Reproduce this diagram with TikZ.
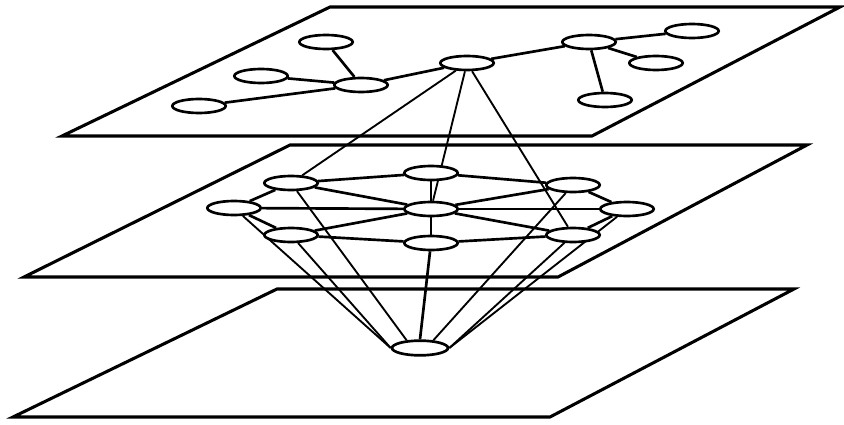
\documentclass[tikz,border=0pt]{standalone}
\usetikzlibrary{shapes.geometric}
\pgfdeclarelayer{bg}
\pgfsetlayers{bg,main}

\begin{document}
\begin{tikzpicture}[x=0.75pt,y=-0.75pt]

\tikzset{line/.style={draw,line width=2pt}}
\tikzset{link/.style={draw,line width=1.4pt}}
\tikzset{plane/.style={draw,line width=2.3pt,line join=miter}}
\tikzset{node/.style={ellipse,line,fill=white,inner sep=0pt,minimum width=40pt,minimum height=10.5pt}}
\tikzset{bottomnode/.style={node,minimum width=42pt,minimum height=11pt}}

\useasboundingbox (0,0) rectangle (844,425);

% top plane
\node[node] (t1) at (326,42) {};
\node[node] (t2) at (261,76) {};
\node[node] (t3) at (361,85) {};
\node[node] (t4) at (199,106) {};
\node[node] (t5) at (467,63) {};
\node[node] (t6) at (589,42) {};
\node[node] (t7) at (692,31) {};
\node[node] (t8) at (656,63) {};
\node[node] (t9) at (605,100) {};

% middle plane
\node[node] (mc) at (431,209) {};
\node[node] (mn) at (431,173) {};
\node[node] (mne) at (573,185) {};
\node[node] (me) at (627,209) {};
\node[node] (mse) at (573,235) {};
\node[node] (ms) at (431,243) {};
\node[node] (msw) at (291,235) {};
\node[node] (mw) at (234,208) {};
\node[node] (mnw) at (291,183) {};

% bottom plane
\node[bottomnode] (b) at (420,348) {};

\begin{pgfonlayer}{bg}

\path[plane] (330,7) -- (840,7) -- (592,136) -- (62,136) -- cycle;
\path[plane] (290,145) -- (807,145) -- (558,277) -- (24,277) -- cycle;
\path[plane] (277,289) -- (794,289) -- (550,417) -- (13,417) -- cycle;

\path[line] (t1) -- (t3);
\path[line] (t2) -- (t3);
\path[line] (t4) -- (t3);
\path[line] (t3) -- (t5);
\path[line] (t5) -- (t6);
\path[line] (t6) -- (t7);
\path[line] (t6) -- (t8);
\path[line] (t6) -- (t9);

\path[line] (mn) -- (mne) -- (me) -- (mse) -- (ms) -- (msw) -- (mw) -- (mnw) -- (mn);
\foreach \m in {mn,mne,me,mse,ms,msw,mw,mnw}
  \path[line] (mc) -- (\m);

\path[link] (t5) -- (mnw);
\path[link] (t5) -- (mc);
\path[link] (t5) -- (mse);

\path[link] (mw) -- (b.west);
\path[link] (msw) -- (b.west);
\path[link] (mnw) -- (b.150);
\path[line] (ms) -- (b.north);
\path[link] (mne) -- (b.30);
\path[link] (mse) -- (b.east);
\path[link] (me) -- (b.east);

\end{pgfonlayer}

\end{tikzpicture}
\end{document}
